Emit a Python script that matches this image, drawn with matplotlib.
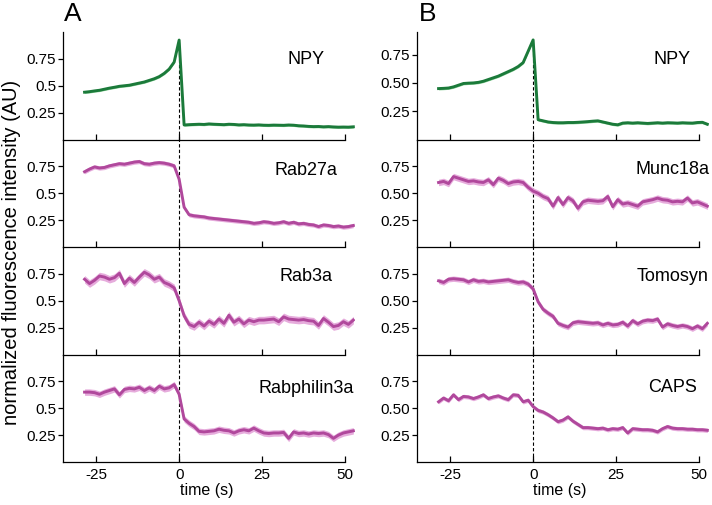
import matplotlib
matplotlib.use('Agg')
import matplotlib.pyplot as plt

plt.rcParams['font.family'] = ['Liberation Sans', 'DejaVu Sans']

# time axis (s), one sample every 1.5 s
time = [-28.5 + 1.5 * k for k in range(55)]

npy_a = [0.440, 0.445, 0.452, 0.458, 0.468, 0.478, 0.486, 0.495, 0.500, 0.505,
         0.515, 0.525, 0.535, 0.550, 0.565, 0.585, 0.615, 0.655, 0.720, 0.925,
         0.135, 0.138, 0.140, 0.142, 0.140, 0.145, 0.142, 0.140, 0.138, 0.142,
         0.140, 0.136, 0.138, 0.135, 0.134, 0.136, 0.133, 0.132, 0.134, 0.133,
         0.132, 0.135, 0.133, 0.128, 0.126, 0.122, 0.120, 0.121, 0.118, 0.120,
         0.117, 0.115, 0.116, 0.115, 0.118]
rab27a = [0.70, 0.725, 0.745, 0.735, 0.74, 0.755, 0.765, 0.775, 0.77, 0.78,
          0.79, 0.795, 0.775, 0.77, 0.78, 0.785, 0.78, 0.77, 0.755, 0.63,
          0.37, 0.30, 0.29, 0.285, 0.28, 0.27, 0.265, 0.26, 0.255, 0.25,
          0.245, 0.24, 0.235, 0.23, 0.22, 0.225, 0.235, 0.23, 0.22, 0.225,
          0.235, 0.22, 0.23, 0.215, 0.22, 0.21, 0.205, 0.19, 0.205, 0.20,
          0.19, 0.195, 0.185, 0.19, 0.20]
rab3a = [0.70, 0.66, 0.69, 0.73, 0.72, 0.70, 0.715, 0.755, 0.66, 0.71,
         0.67, 0.72, 0.765, 0.74, 0.70, 0.72, 0.67, 0.65, 0.62, 0.50,
         0.36, 0.28, 0.26, 0.30, 0.265, 0.31, 0.28, 0.33, 0.29, 0.365,
         0.30, 0.33, 0.285, 0.32, 0.305, 0.32, 0.32, 0.325, 0.33, 0.305,
         0.35, 0.33, 0.325, 0.32, 0.325, 0.315, 0.31, 0.27, 0.335, 0.30,
         0.26, 0.27, 0.305, 0.28, 0.32]
rabphilin3a = [0.65, 0.65, 0.645, 0.63, 0.65, 0.665, 0.68, 0.625, 0.675, 0.685,
               0.68, 0.695, 0.665, 0.69, 0.665, 0.705, 0.68, 0.69, 0.72, 0.63,
               0.40, 0.36, 0.33, 0.285, 0.28, 0.285, 0.29, 0.305, 0.295, 0.29,
               0.27, 0.29, 0.30, 0.29, 0.315, 0.29, 0.27, 0.265, 0.27, 0.27,
               0.275, 0.22, 0.28, 0.265, 0.27, 0.26, 0.27, 0.265, 0.27, 0.255,
               0.22, 0.25, 0.27, 0.28, 0.29]

npy_b = [0.45, 0.452, 0.455, 0.465, 0.48, 0.495, 0.498, 0.50, 0.505, 0.515,
         0.53, 0.545, 0.56, 0.58, 0.60, 0.62, 0.645, 0.68, 0.78, 0.88,
         0.175, 0.165, 0.155, 0.15, 0.148, 0.148, 0.15, 0.15, 0.152, 0.155,
         0.158, 0.162, 0.165, 0.155, 0.145, 0.135, 0.13, 0.145, 0.148, 0.145,
         0.148, 0.145, 0.142, 0.145, 0.148, 0.145, 0.148, 0.147, 0.145, 0.148,
         0.146, 0.145, 0.15, 0.152, 0.135]
munc18a = [0.60, 0.61, 0.59, 0.655, 0.64, 0.625, 0.61, 0.615, 0.605, 0.60,
           0.625, 0.58, 0.64, 0.62, 0.59, 0.605, 0.61, 0.60, 0.555, 0.52,
           0.50, 0.47, 0.45, 0.38, 0.46, 0.395, 0.46, 0.43, 0.36, 0.42,
           0.435, 0.43, 0.425, 0.43, 0.47, 0.375, 0.44, 0.40, 0.41, 0.395,
           0.38, 0.42, 0.43, 0.44, 0.455, 0.44, 0.435, 0.42, 0.425, 0.42,
           0.455, 0.41, 0.42, 0.40, 0.38]
tomosyn = [0.685, 0.67, 0.70, 0.705, 0.70, 0.695, 0.675, 0.695, 0.68, 0.685,
           0.675, 0.68, 0.685, 0.69, 0.695, 0.68, 0.67, 0.675, 0.655, 0.61,
           0.49, 0.42, 0.385, 0.355, 0.29, 0.27, 0.255, 0.295, 0.305, 0.30,
           0.295, 0.29, 0.295, 0.275, 0.29, 0.275, 0.28, 0.30, 0.265, 0.315,
           0.285, 0.31, 0.32, 0.315, 0.33, 0.255, 0.285, 0.27, 0.26, 0.27,
           0.26, 0.24, 0.265, 0.24, 0.29]
caps = [0.56, 0.595, 0.57, 0.625, 0.58, 0.61, 0.605, 0.59, 0.605, 0.625,
        0.59, 0.605, 0.615, 0.595, 0.58, 0.625, 0.62, 0.56, 0.575, 0.515,
        0.48, 0.465, 0.44, 0.41, 0.375, 0.39, 0.42, 0.38, 0.35, 0.32,
        0.32, 0.315, 0.31, 0.315, 0.30, 0.31, 0.305, 0.32, 0.27, 0.31,
        0.305, 0.30, 0.30, 0.295, 0.28, 0.31, 0.33, 0.315, 0.31, 0.31,
        0.305, 0.305, 0.30, 0.30, 0.295]

# names, traces and error (sem) for each column
names_a = ['NPY', 'Rab27a', 'Rab3a', 'Rabphilin3a']
traces_a = [npy_a, rab27a, rab3a, rabphilin3a]
sem_a = [0.012, 0.02, 0.035, 0.03]

names_b = ['NPY', 'Munc18a', 'Tomosyn', 'CAPS']
traces_b = [npy_b, munc18a, tomosyn, caps]
sem_b = [0.012, 0.03, 0.025, 0.02]

yticks = [0.25, 0.5, 0.75]
yticklabels_a = ['0.25', '0.5', '0.75']
yticklabels_b = ['0.25', '0.50', '0.75']
xticks = [-25, 0, 25, 50]

GREEN, GREEN_BAND = '#1b7a3a', '#8fd39c'
MAGENTA, MAGENTA_BAND = '#b0489c', '#e6acdc'


def column(fig, left, names, traces, sems, ticklabels, label_x, label_y, top_ylim):
    width = 292 / 712
    row_h = 107.5 / 505
    bottom0 = 43 / 505
    axes = []
    for i in range(4):
        ax = fig.add_axes([left, bottom0 + (3 - i) * row_h, width, row_h])
        y = traces[i]
        lo = [v - sems[i] for v in y]
        hi = [v + sems[i] for v in y]
        if i == 0:
            col, band = GREEN, GREEN_BAND
            ax.set_ylim(0, top_ylim)
            # dashed marker only up to the peak of the NPY trace
            ax.vlines(0, 0, y[time.index(0.0)], colors='k', linestyles=(0, (3, 2)), lw=0.8, zorder=1)
        else:
            col, band = MAGENTA, MAGENTA_BAND
            ax.set_ylim(0, 1.0)
            ax.axvline(0, color='k', ls=(0, (3, 2)), lw=0.8, zorder=1)
        ax.fill_between(time, lo, hi, color=band, lw=0, zorder=2)
        ax.plot(time, y, color=col, lw=2.1, zorder=3)
        ax.set_xlim(-35, 53)
        ax.spines['top'].set_visible(False)
        ax.spines['right'].set_visible(False)
        ax.spines['bottom'].set_bounds(-35, 50)
        ax.spines['left'].set_linewidth(0.9)
        ax.spines['bottom'].set_linewidth(0.9)
        ax.set_yticks(yticks)
        ax.set_yticklabels(ticklabels, fontsize=11)
        ax.set_xticks(xticks)
        ax.tick_params(axis='y', direction='out', length=3.5, width=0.9, pad=1.5)
        ax.tick_params(axis='x', direction='in', length=4, width=0.9, pad=4)
        if i < 3:
            ax.set_xticklabels([])
        else:
            ax.set_xticklabels([str(t) for t in xticks], fontsize=11)
        ax.text(label_x, label_y[i], names[i], ha='center', va='center', fontsize=13)
        ax.patch.set_alpha(0)
        axes.append(ax)
    return axes


fig = plt.figure(figsize=(7.12, 5.05), dpi=100)

column(fig, 63 / 712, names_a, traces_a, sem_a, yticklabels_a, 38.3,
       [0.745, 0.71, 0.73, 0.685], 1.0)
column(fig, 417 / 712, names_b, traces_b, sem_b, yticklabels_b, 41.9,
       [0.71, 0.717, 0.73, 0.69], 0.95)

fig.text(73 / 712, 1 - 14 / 505, 'A', fontsize=19, ha='center', va='center')
fig.text(428 / 712, 1 - 14 / 505, 'B', fontsize=19, ha='center', va='center')
fig.text(207 / 712, 1 - 490 / 505, 'time (s)', fontsize=11.5, ha='center', va='center')
fig.text(560 / 712, 1 - 490 / 505, 'time (s)', fontsize=11.5, ha='center', va='center')
fig.text(12 / 712, 0.5, 'normalized fluorescence intensity (AU)', fontsize=14.5,
         rotation=90, ha='center', va='center')

plt.savefig('out.png', dpi=100)
